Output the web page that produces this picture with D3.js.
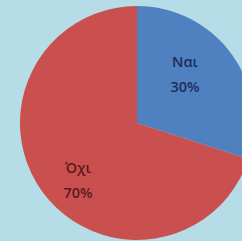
<!DOCTYPE html>
<html><head><meta charset="utf-8">
<script src="https://cdn.jsdelivr.net/npm/d3@7"></script>
<style>html,body{margin:0;padding:0;background:#b5dce7;overflow:hidden}</style>
</head><body>
<script>
const categories = ["Ναι", "Όχι"];
const values = [30, 70];
const colors = ["#4f80c0", "#c9504e"];
const textColors = ["#1c2f5a", "#5a1a1c"];

const W = 242, H = 241, cx = 137, cy = 123, R = 117;
const svg = d3.select("body").append("svg").attr("width", W).attr("height", H);
svg.append("rect").attr("width", W).attr("height", H).attr("fill", "#b5dce7");
const g = svg.append("g").attr("transform", `translate(${cx},${cy})`);
const pie = d3.pie().sort(null).value(d => d)(values);
const arc = d3.arc().innerRadius(0).outerRadius(R);
g.selectAll("path").data(pie).join("path").attr("d", arc).attr("fill", (d, i) => colors[i]);

const total = d3.sum(values);
const labelPos = [[48, -50], [-59, 56]];
const lab = g.selectAll("g.lab").data(pie).join("g").attr("class", "lab")
  .attr("transform", (d, i) => `translate(${labelPos[i][0]},${labelPos[i][1]})`);
lab.append("text").attr("text-anchor", "middle").attr("y", -6)
  .attr("font-family", "Open Sans").attr("font-weight", 600).attr("font-size", 14.5)
  .attr("fill", (d, i) => textColors[i]).text((d, i) => categories[i]);
lab.append("text").attr("text-anchor", "middle").attr("y", 19)
  .attr("font-family", "Open Sans").attr("font-weight", 600).attr("font-size", 14.5)
  .attr("fill", (d, i) => textColors[i]).text(d => Math.round(d.value / total * 100) + "%");
</script>
</body></html>
